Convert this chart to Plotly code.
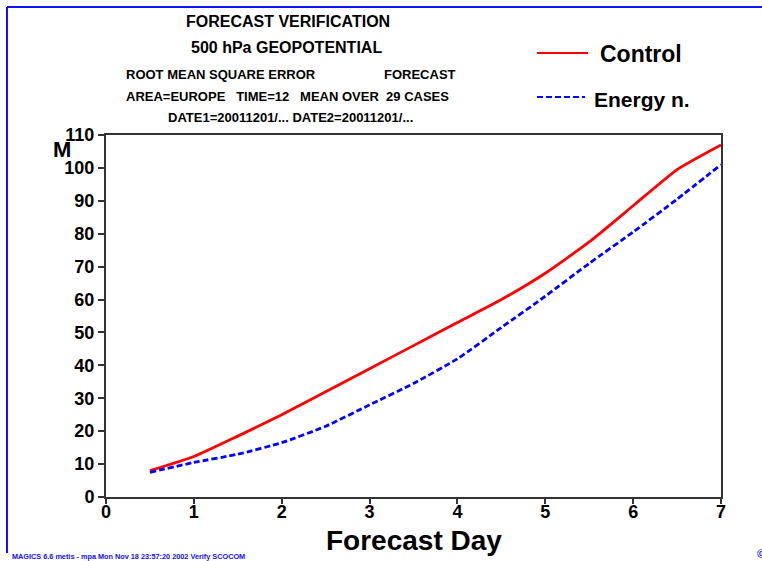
import plotly.graph_objects as go

# ---- data ----
days = [0.5, 1.0, 1.5, 2.0, 2.5, 3.0, 3.5, 4.0, 4.5, 5.0, 5.5, 6.0, 6.5, 7.0]
control = [8.0, 12.3, 18.5, 25.0, 32.0, 39.0, 46.0, 53.0, 60.0, 68.0, 77.5, 88.5, 99.5, 107.0]
energy = [7.5, 10.5, 13.0, 16.5, 21.5, 28.0, 34.5, 42.0, 51.5, 61.0, 71.0, 80.5, 90.5, 101.0]
x_ticks = [0, 1, 2, 3, 4, 5, 6, 7]
y_ticks = [0, 10, 20, 30, 40, 50, 60, 70, 80, 90, 100, 110]

W, H = 762, 561
L, R, T, B = 106, 721, 135, 497  # plot area in pixels
PW, PH = R - L, B - T


def px(x):
    return (x - L) / PW


def py(y):
    return (B - y) / PH


FONT = "Liberation Sans, Arial, Helvetica, sans-serif"
BLUE = "#1010ff"

fig = go.Figure()
fig.add_trace(go.Scatter(x=days, y=control, mode="lines", name="Control",
                         line=dict(color="#ff0000", width=2.8, shape="spline", smoothing=0.5),
                         showlegend=False))
fig.add_trace(go.Scatter(x=days, y=energy, mode="lines", name="Energy n.",
                         line=dict(color="#0000ff", width=2.8, dash="6px,3px", shape="spline", smoothing=0.5),
                         showlegend=False))

shapes = [
    # blue page border
    dict(type="line", xref="paper", yref="paper", x0=px(7), x1=px(W + 5), y0=py(7), y1=py(7),
         line=dict(color=BLUE, width=2)),
    dict(type="line", xref="paper", yref="paper", x0=px(7), x1=px(7), y0=py(7), y1=py(553),
         line=dict(color=BLUE, width=2)),
    # legend samples
    dict(type="line", xref="paper", yref="paper", x0=px(537), x1=px(588), y0=py(53), y1=py(53),
         line=dict(color="#ff0000", width=2)),
    dict(type="line", xref="paper", yref="paper", x0=px(537), x1=px(585), y0=py(97), y1=py(97),
         line=dict(color="#0000ff", width=2, dash="6px,3px")),
]


def ann(text, x, y, size, anchor="center", color="black", bold=True):
    return dict(text=text, xref="paper", yref="paper", x=px(x), y=py(y), showarrow=False,
                xanchor=anchor, yanchor="middle",
                font=dict(family=FONT, size=size, color=color, weight="bold" if bold else "normal"))


annotations = [
    ann("FORECAST VERIFICATION", 288, 21, 16),
    ann("500 hPa GEOPOTENTIAL", 286, 48, 16),
    ann("ROOT MEAN SQUARE ERROR", 124, 74, 13, "left"),
    ann("FORECAST", 382, 74, 13, "left"),
    ann("AREA=EUROPE&nbsp;&nbsp;&nbsp;TIME=12&nbsp;&nbsp;&nbsp;MEAN OVER&nbsp;&nbsp;29 CASES", 124, 97, 13, "left"),
    ann("DATE1=20011201/... DATE2=20011201/...", 290, 118, 13),
    ann("Control", 598, 54, 23, "left"),
    ann("Energy n.", 592, 99, 21, "left"),
    ann("M", 62, 149, 22),
    ann("Forecast Day", 414, 540, 28),
    ann("MAGICS 6.6 metis - mpa Mon Nov 18 23:57:20 2002 Verify SCOCOM", 10, 556, 7.3, "left", BLUE),
    ann("©", 755, 554, 12, "left", BLUE),
]

fig.update_layout(
    width=W, height=H,
    margin=dict(l=L, r=W - R, t=T, b=H - B, pad=0),
    paper_bgcolor="white", plot_bgcolor="white",
    shapes=shapes, annotations=annotations,
    xaxis=dict(range=[0, 7], tickvals=x_ticks, ticktext=[str(v) for v in x_ticks],
               showgrid=False, zeroline=False, showline=True, mirror=True,
               linecolor="#333333", linewidth=2, ticks="outside", ticklen=5, tickwidth=2,
               tickcolor="#333333", ticklabelstandoff=-8,
               tickfont=dict(family=FONT, size=18, color="black", weight="bold")),
    yaxis=dict(range=[0, 110], tickvals=y_ticks, ticktext=[str(v) for v in y_ticks],
               showgrid=False, zeroline=False, showline=True, mirror=True,
               linecolor="#333333", linewidth=2, ticks="outside", ticklen=6, tickwidth=2,
               tickcolor="#333333",
               tickfont=dict(family=FONT, size=18, color="black", weight="bold")),
)

fig.write_html("out.html")
